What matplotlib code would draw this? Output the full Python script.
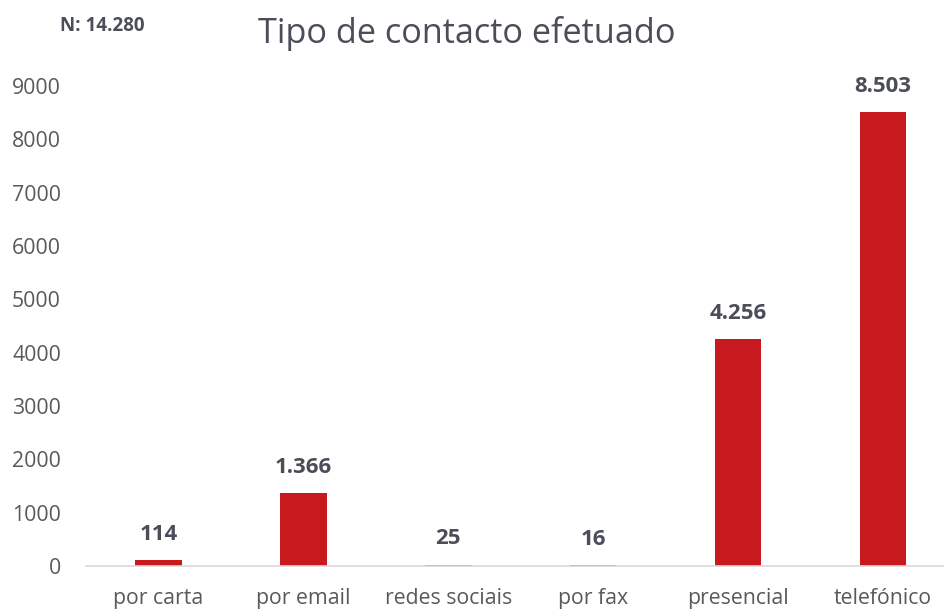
import matplotlib.pyplot as plt

categories = ['por carta', 'por email', 'redes sociais', 'por fax', 'presencial', 'telefónico']
values = [114, 1366, 25, 16, 4256, 8503]
labels = ['114', '1.366', '25', '16', '4.256', '8.503']
yticks = [0, 1000, 2000, 3000, 4000, 5000, 6000, 7000, 8000, 9000]

plt.rcParams['font.family'] = ['Open Sans', 'DejaVu Sans']

fig = plt.figure(figsize=(9.44, 6.10), dpi=100)
ax = fig.add_axes([0.0911, 0.0721, 0.9089, 0.787])

x = range(len(categories))
ax.bar(x, values, width=0.32, color='#c8191e')
for i, (v, lab) in enumerate(zip(values, labels)):
    ax.annotate(lab, (i, v), xytext=(0, 11), textcoords='offset points',
                ha='center', va='bottom', fontsize=16, fontweight='bold',
                color='#4b4e59')

ax.set_xlim(-0.5, 5.42)
ax.set_ylim(0, 9000)
ax.set_yticks(yticks)
ax.set_xticks(list(x))
ax.set_xticklabels(categories)
ax.tick_params(axis='both', length=0, labelsize=15.3, labelcolor='#595959')
ax.tick_params(axis='x', pad=16)
ax.tick_params(axis='y', pad=18)
for s in ['top', 'right', 'left']:
    ax.spines[s].set_visible(False)
ax.spines['bottom'].set_color('#d9d9d9')
ax.spines['bottom'].set_linewidth(1.2)

fig.text(0.494, 0.945, 'Tipo de contacto efetuado', ha='center', va='center',
         fontsize=24.7, color='#4b4e59')
fig.text(0.064, 0.958, 'N: 14.280', ha='left', va='center',
         fontsize=13.5, fontweight='bold', color='#4b4e59')

fig.savefig('out.png', dpi=100)
